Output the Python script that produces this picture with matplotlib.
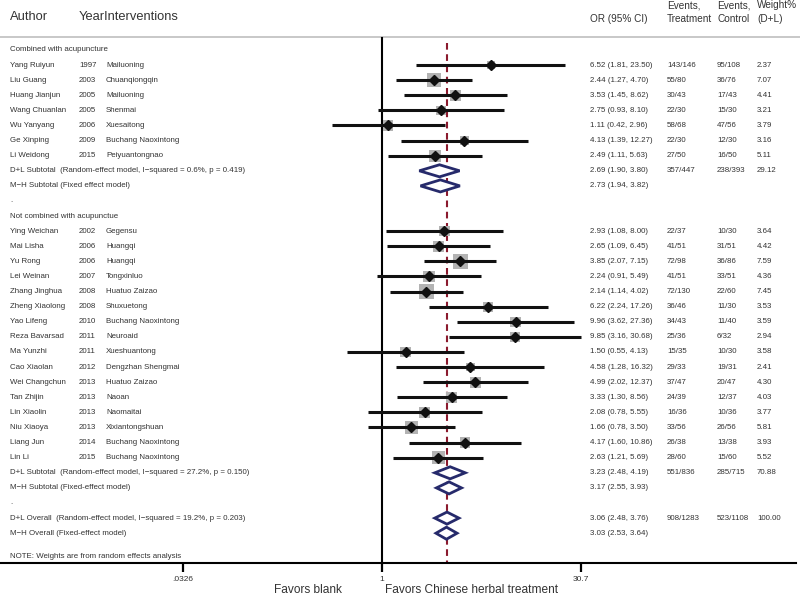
import matplotlib
matplotlib.use("Agg")
import matplotlib.pyplot as plt
from matplotlib.transforms import blended_transform_factory
from matplotlib.ticker import NullLocator, FixedLocator, FixedFormatter
import math

plt.rcParams['font.family'] = ['Liberation Sans', 'DejaVu Sans']

# ---------------- data ----------------
g1_authors = ["Yang Ruiyun", "Liu Guang", "Huang Jianjun", "Wang Chuanlan", "Wu Yanyang", "Ge Xinping", "Li Weidong"]
g1_years = ["1997", "2003", "2005", "2005", "2006", "2009", "2015"]
g1_interv = ["Mailuoning", "Chuanqiongqin", "Mailuoning", "Shenmai", "Xuesaitong", "Buchang Naoxintong", "Peiyuantongnao"]
g1_or = [6.52, 2.44, 3.53, 2.75, 1.11, 4.13, 2.49]
g1_lo = [1.81, 1.27, 1.45, 0.93, 0.42, 1.39, 1.11]
g1_hi = [23.50, 4.70, 8.62, 8.10, 2.96, 12.27, 5.63]
g1_evt = ["143/146", "55/80", "30/43", "22/30", "58/68", "22/30", "27/50"]
g1_evc = ["95/108", "36/76", "17/43", "15/30", "47/56", "12/30", "16/50"]
g1_w = [2.37, 7.07, 4.41, 3.21, 3.79, 3.16, 5.11]

g2_authors = ["Ying Weichan", "Mai Lisha", "Yu Rong", "Lei Weinan", "Zhang Jinghua", "Zheng Xiaolong",
              "Yao Lifeng", "Reza Bavarsad", "Ma Yunzhi", "Cao Xiaolan", "Wei Changchun", "Tan Zhijin",
              "Lin Xiaolin", "Niu Xiaoya", "Liang Jun", "Lin Li"]
g2_years = ["2002", "2006", "2006", "2007", "2008", "2008", "2010", "2011", "2011", "2012", "2013", "2013",
            "2013", "2013", "2014", "2015"]
g2_interv = ["Gegensu", "Huangqi", "Huangqi", "Tongxinluo", "Huatuo Zaizao", "Shuxuetong", "Buchang Naoxintong",
             "Neuroaid", "Xueshuantong", "Dengzhan Shengmai", "Huatuo Zaizao", "Naoan", "Naomaitai",
             "Xixiantongshuan", "Buchang Naoxintong", "Buchang Naoxintong"]
g2_or = [2.93, 2.65, 3.85, 2.24, 2.14, 6.22, 9.96, 9.85, 1.50, 4.58, 4.99, 3.33, 2.08, 1.66, 4.17, 2.63]
g2_lo = [1.08, 1.09, 2.07, 0.91, 1.14, 2.24, 3.62, 3.16, 0.55, 1.28, 2.02, 1.30, 0.78, 0.78, 1.60, 1.21]
g2_hi = [8.00, 6.45, 7.15, 5.49, 4.02, 17.26, 27.36, 30.68, 4.13, 16.32, 12.37, 8.56, 5.55, 3.50, 10.86, 5.69]
g2_evt = ["22/37", "41/51", "72/98", "41/51", "72/130", "36/46", "34/43", "25/36", "15/35", "29/33", "37/47",
          "24/39", "16/36", "33/56", "26/38", "28/60"]
g2_evc = ["10/30", "31/51", "36/86", "33/51", "22/60", "11/30", "11/40", "6/32", "10/30", "19/31", "20/47",
          "12/37", "10/36", "26/56", "13/38", "15/60"]
g2_w = [3.64, 4.42, 7.59, 4.36, 7.45, 3.53, 3.59, 2.94, 3.58, 2.41, 4.30, 4.03, 3.77, 5.81, 3.93, 5.52]

pooled_labels = ["D+L Subtotal  (Random-effect model, I\u2212squared = 0.6%, p = 0.419)",
                 "M\u2212H Subtotal (Fixed effect model)",
                 "D+L Subtotal  (Random-effect model, I\u2212squared = 27.2%, p = 0.150)",
                 "M\u2212H Subtotal (Fixed-effect model)",
                 "D+L Overall  (Random-effect model, I\u2212squared = 19.2%, p = 0.203)",
                 "M\u2212H Overall (Fixed-effect model)"]
pooled_or = [2.69, 2.73, 3.23, 3.17, 3.06, 3.03]
pooled_lo = [1.90, 1.94, 2.48, 2.55, 2.48, 2.53]
pooled_hi = [3.80, 3.82, 4.19, 3.93, 3.76, 3.64]
pooled_evt = ["357/447", "", "551/836", "", "908/1283", ""]
pooled_evc = ["238/393", "", "285/715", "", "523/1108", ""]
pooled_w = ["29.12", "", "70.88", "", "100.00", ""]

tick_vals = [0.0326, 1, 30.7]
tick_labels = [".0326", "1", "30.7"]
overall_line = 3.06

# ---------------- layout (rows) ----------------
g1_rows = list(range(1, 1 + len(g1_authors)))
g2_rows = list(range(12, 12 + len(g2_authors)))
pooled_rows = [8, 9, 28, 29, 31, 32]

W, H = 800, 597
fig = plt.figure(figsize=(W / 100, H / 100), dpi=100)
row_px0, row_step = 50.0, 15.1
ax = fig.add_axes([0, 0, 796 / W, 1])
ax.set_xscale('log')
px1 = 382.0
ppu = 199.0 / math.log(30.7)
ax.set_xlim(math.exp(-px1 / ppu), math.exp((796 - px1) / ppu))
ax.set_ylim((H - row_px0) / row_step, -row_px0 / row_step)


def hrow(px):
    return (px - row_px0) / row_step


axis_row = hrow(563)
for s in ['top', 'left', 'right']:
    ax.spines[s].set_visible(False)
ax.spines['bottom'].set_position(('data', axis_row))
ax.spines['bottom'].set_linewidth(1.5)
ax.xaxis.set_major_locator(FixedLocator(tick_vals))
ax.xaxis.set_major_formatter(FixedFormatter(tick_labels))
ax.xaxis.set_minor_locator(NullLocator())
ax.tick_params(axis='x', direction='out', length=6.5, width=1.6, pad=3, labelsize=6, labelcolor='#333333')
ax.set_yticks([])
ax.patch.set_alpha(0)

sep_row = hrow(37.5)
# header separator
ax.axhline(sep_row, xmin=0, xmax=W / 796, color='#c4c4c4', lw=1.3, clip_on=False)
# null line
ax.plot([1, 1], [sep_row + 0.05, axis_row], color='black', lw=1.5, zorder=2)
# overall dashed line
ax.plot([overall_line, overall_line], [hrow(43), axis_row], color='#8b1a2e', lw=1.5,
        dashes=(3.2, 2.2), zorder=1)

# study markers
all_or = g1_or + g2_or
all_lo = g1_lo + g2_lo
all_hi = g1_hi + g2_hi
all_w = g1_w + g2_w
all_rows = g1_rows + g2_rows
ax.scatter(all_or, all_rows, s=[15.5 * w for w in all_w], marker='s', color='#b3b3b3', zorder=3, linewidths=0)
for o, lo, hi, r in zip(all_or, all_lo, all_hi, all_rows):
    ax.plot([lo, hi], [r, r], color='#111111', lw=2.2, solid_capstyle='butt', zorder=4)
ax.plot(all_or, all_rows, linestyle='none', marker='D', markersize=5.0, color='#111111', zorder=5)

# pooled diamonds
for o, lo, hi, r in zip(pooled_or, pooled_lo, pooled_hi, pooled_rows):
    ax.fill([lo, o, hi, o, lo], [r, r - 0.4, r, r + 0.4, r], facecolor='white', edgecolor='#262a6b',
            lw=2.0, zorder=4, joinstyle='miter')

# ---------------- text ----------------
tr = blended_transform_factory(fig.transFigure, ax.transData)
body = dict(fontsize=5.7, color='#333333', va='center', transform=tr)
x_auth, x_year, x_int = 10 / W, 79 / W, 106 / W
x_or, x_evt, x_evc, x_w = 590 / W, 667 / W, 717 / W, 757 / W

fig.text(x_auth, hrow(17.5), "Author", fontsize=9.3, color='#333333', va='center', transform=tr)
fig.text(x_year, hrow(17.5), "YearInterventions", fontsize=9.3, color='#333333', va='center', transform=tr)
hdr = dict(fontsize=7.2, color='#333333', va='center', transform=tr)
fig.text(x_or, hrow(19), "OR (95% CI)", **hdr)
fig.text(x_evt, hrow(5.5), "Events,", **hdr)
fig.text(x_evt, hrow(19), "Treatment", **hdr)
fig.text(x_evc, hrow(5.5), "Events,", **hdr)
fig.text(x_evc, hrow(19), "Control", **hdr)
fig.text(x_w, hrow(5.5), "Weight%", **hdr)
fig.text(x_w, hrow(19), "(D+L)", **hdr)

fig.text(x_auth, 0, "Combined with acupuncture", **body)
fig.text(x_auth, 10, ".", **body)
fig.text(x_auth, 11, "Not combined with acupunctue", **body)
fig.text(x_auth, 30, ".", **body)
fig.text(x_auth, hrow(556), "NOTE: Weights are from random effects analysis", **body)

authors = g1_authors + g2_authors
years = g1_years + g2_years
interv = g1_interv + g2_interv
evt = g1_evt + g2_evt
evc = g1_evc + g2_evc
for i, r in enumerate(all_rows):
    fig.text(x_auth, r, authors[i], **body)
    fig.text(x_year, r, years[i], **body)
    fig.text(x_int, r, interv[i], **body)
    fig.text(x_or, r, f"{all_or[i]:.2f} ({all_lo[i]:.2f}, {all_hi[i]:.2f})", **body)
    fig.text(x_evt, r, evt[i], **body)
    fig.text(x_evc, r, evc[i], **body)
    fig.text(x_w, r, f"{all_w[i]:.2f}", **body)

for i, r in enumerate(pooled_rows):
    fig.text(x_auth, r, pooled_labels[i], **body)
    fig.text(x_or, r, f"{pooled_or[i]:.2f} ({pooled_lo[i]:.2f}, {pooled_hi[i]:.2f})", **body)
    fig.text(x_evt, r, pooled_evt[i], **body)
    fig.text(x_evc, r, pooled_evc[i], **body)
    fig.text(x_w, r, pooled_w[i], **body)

fig.text(342 / W, hrow(590), "Favors blank", fontsize=8.6, color='#333333', va='center', ha='right', transform=tr)
fig.text(385 / W, hrow(590), "Favors Chinese herbal treatment", fontsize=8.6, color='#333333', va='center',
         ha='left', transform=tr)

fig.savefig("out.png", dpi=100)
